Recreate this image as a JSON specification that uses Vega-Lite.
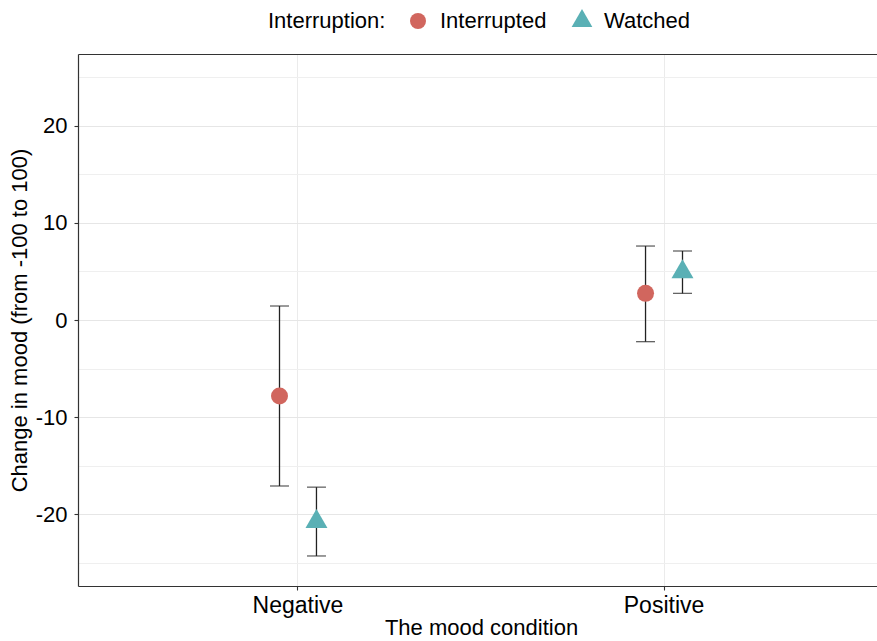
{
  "$schema": "https://vega.github.io/schema/vega-lite/v6.json",
  "width": 799,
  "height": 532,
  "autosize": {"type": "none"},
  "padding": {"left": 78, "top": 54, "right": 0, "bottom": 55},
  "background": "white",
  "config": {
    "font": "Liberation Sans",
    "view": {"stroke": null},
    "axis": {
      "labelColor": "#000000",
      "titleColor": "#000000",
      "labelFontSize": 22,
      "titleFontSize": 22,
      "titleFontWeight": "normal",
      "domainColor": "#333333",
      "domainWidth": 1.2,
      "tickColor": "#333333",
      "tickSize": 4,
      "tickWidth": 1.1,
      "gridColor": "#EBEBEB",
      "gridWidth": 1
    }
  },
  "data": {
    "values": [
      {"mood": "Negative", "Interruption": "Interrupted", "mean": -7.82, "lower": -17.08, "upper": 1.44},
      {"mood": "Negative", "Interruption": "Watched", "mean": -20.75, "lower": -24.28, "upper": -17.2},
      {"mood": "Positive", "Interruption": "Interrupted", "mean": 2.74, "lower": -2.23, "upper": 7.61},
      {"mood": "Positive", "Interruption": "Watched", "mean": 4.94, "lower": 2.74, "upper": 7.1}
    ]
  },
  "layer": [
    {
      "mark": {"type": "rule", "color": "#222222", "strokeWidth": 1.3},
      "encoding": {
        "x": {
          "field": "mood", "type": "nominal", "title": "The mood condition",
          "scale": {"range": [0, 806], "paddingInner": 0.798, "paddingOuter": 0.5},
          "axis": {"orient": "bottom", "labelAngle": 0, "bandPosition": 0.5, "grid": true, "domain": true, "labelPadding": 4, "titlePadding": 0, "labelFontSize": 23}
        },
        "xOffset": {"field": "Interruption", "type": "nominal", "scale": {"paddingInner": 0, "paddingOuter": 0}},
        "y": {
          "field": "lower", "type": "quantitative", "title": "Change in mood (from -100 to 100)",
          "scale": {"domain": [-27.37, 27.37], "nice": false, "zero": false},
          "axis": {
            "values": [-25, -20, -15, -10, -5, 0, 5, 10, 15, 20, 25],
            "labelExpr": "datum.value % 10 === 0 ? '' + datum.value : ''",
            "gridColor": {"condition": {"test": "datum.value % 10 === 0", "value": "#E6E6E6"}, "value": "#EFEFEF"},
            "tickOpacity": {"condition": {"test": "datum.value % 10 === 0", "value": 1}, "value": 0},
            "domain": true,
            "labelPadding": 7,
            "titlePadding": 4
          }
        },
        "y2": {"field": "upper"}
      }
    },
    {
      "mark": {"type": "tick", "color": "#222222", "thickness": 1.3, "size": 19, "orient": "horizontal"},
      "encoding": {
        "x": {
          "field": "mood", "type": "nominal",
          "scale": {"range": [0, 806], "paddingInner": 0.798, "paddingOuter": 0.5},
          "axis": {"orient": "top", "labels": false, "ticks": false, "grid": false, "domain": true, "title": null}
        },
        "xOffset": {"field": "Interruption", "type": "nominal", "scale": {"paddingInner": 0, "paddingOuter": 0}},
        "y": {"field": "lower", "type": "quantitative", "title": "Change in mood (from -100 to 100)", "scale": {"domain": [-27.37, 27.37], "nice": false, "zero": false}}
      }
    },
    {
      "mark": {"type": "tick", "color": "#222222", "thickness": 1.3, "size": 19, "orient": "horizontal"},
      "encoding": {
        "x": {
          "field": "mood", "type": "nominal",
          "scale": {"range": [0, 806], "paddingInner": 0.798, "paddingOuter": 0.5},
          "axis": null
        },
        "xOffset": {"field": "Interruption", "type": "nominal", "scale": {"paddingInner": 0, "paddingOuter": 0}},
        "y": {"field": "upper", "type": "quantitative", "title": "Change in mood (from -100 to 100)", "scale": {"domain": [-27.37, 27.37], "nice": false, "zero": false}}
      }
    },
    {
      "mark": {"type": "point", "filled": true, "opacity": 1, "size": 289, "strokeWidth": 0},
      "encoding": {
        "x": {
          "field": "mood", "type": "nominal",
          "scale": {"range": [0, 806], "paddingInner": 0.798, "paddingOuter": 0.5},
          "axis": null
        },
        "xOffset": {"field": "Interruption", "type": "nominal", "scale": {"paddingInner": 0, "paddingOuter": 0}},
        "y": {"field": "mean", "type": "quantitative", "title": "Change in mood (from -100 to 100)", "scale": {"domain": [-27.37, 27.37], "nice": false, "zero": false}},
        "color": {
          "field": "Interruption", "type": "nominal", "title": "Interruption:",
          "scale": {"domain": ["Interrupted", "Watched"], "range": ["#D1665E", "#5AB0B5"]},
          "legend": {
            "orient": "none", "legendX": 190, "legendY": -44, "direction": "horizontal",
            "titleOrient": "left", "titleFontSize": 22, "labelFontSize": 22,
            "titleFontWeight": "normal", "titleColor": "#000000", "labelColor": "#000000",
            "titlePadding": 21, "labelOffset": 11, "columnPadding": 24,
            "symbolSize": 256, "symbolStrokeWidth": 0, "symbolOpacity": 1
          }
        },
        "shape": {
          "field": "Interruption", "type": "nominal", "title": "Interruption:",
          "scale": {"domain": ["Interrupted", "Watched"], "range": ["circle", "M0,-1.494L1.294,0.747L-1.294,0.747Z"]}
        }
      }
    }
  ],
  "resolve": {"axis": {"x": "independent"}}
}
